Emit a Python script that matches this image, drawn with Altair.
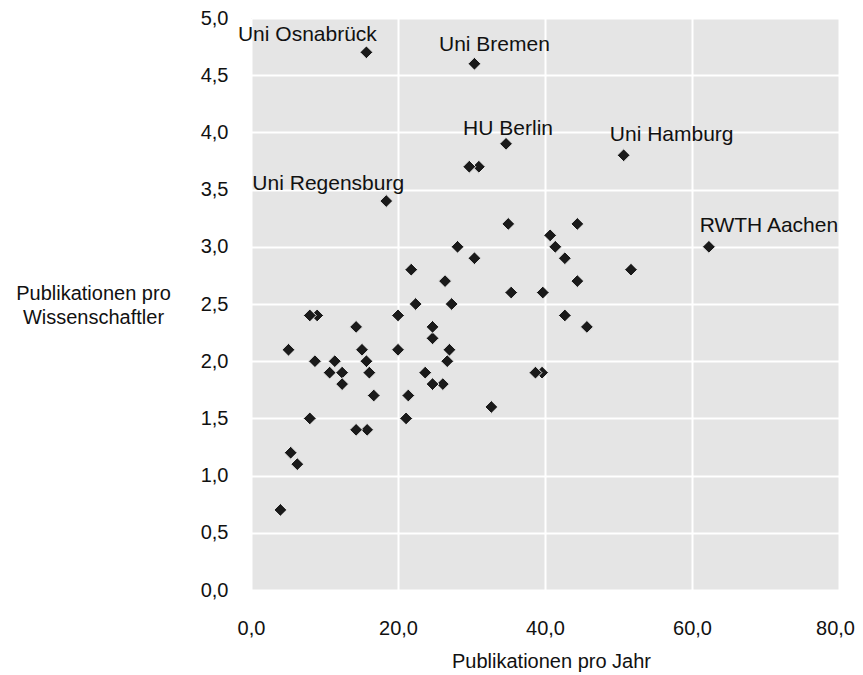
import altair as alt
import pandas as pd

# Unlabelled universities: x = Publikationen pro Jahr, y = Publikationen pro Wissenschaftler
x_vals = [31.0, 29.7, 35.0, 44.4, 40.7, 41.4, 42.7, 51.7, 44.4, 35.4, 39.7, 42.7, 45.7,
          28.1, 30.4, 21.8, 26.4, 22.4, 27.3, 20.0, 24.7, 24.7, 20.0, 27.0, 26.7,
          23.7, 26.1, 24.7, 21.4, 32.7, 21.1, 39.6, 38.7,
          9.0, 8.0, 14.3, 5.1, 15.1, 8.7, 11.4, 15.7, 10.7, 12.4, 16.1, 12.4,
          16.7, 8.0, 15.8, 14.3, 5.4, 6.3, 4.0]
y_vals = [3.7, 3.7, 3.2, 3.2, 3.1, 3.0, 2.9, 2.8, 2.7, 2.6, 2.6, 2.4, 2.3,
          3.0, 2.9, 2.8, 2.7, 2.5, 2.5, 2.4, 2.2, 2.3, 2.1, 2.1, 2.0,
          1.9, 1.8, 1.8, 1.7, 1.6, 1.5, 1.9, 1.9,
          2.4, 2.4, 2.3, 2.1, 2.1, 2.0, 2.0, 2.0, 1.9, 1.9, 1.9, 1.8,
          1.7, 1.5, 1.4, 1.4, 1.2, 1.1, 0.7]

# Labelled universities
label_names = ["Uni Osnabrück", "Uni Bremen", "HU Berlin", "Uni Hamburg",
               "Uni Regensburg", "RWTH Aachen"]
label_x = [15.7, 30.4, 34.7, 50.7, 18.4, 62.3]
label_y = [4.7, 4.6, 3.9, 3.8, 3.4, 3.0]
label_offsets = [(-59, -11), (20, -13), (2, -9), (48, -14), (-58, -11), (60, -15)]

x_ticks = [0, 20, 40, 60, 80]
y_ticks = [0, 0.5, 1.0, 1.5, 2.0, 2.5, 3.0, 3.5, 4.0, 4.5, 5.0]

FONT = "Liberation Sans"
TXT = "#111111"

pts = pd.DataFrame({"x": x_vals + label_x, "y": y_vals + label_y})
labels = pd.DataFrame({"x": label_x, "y": label_y, "name": label_names})

xenc = alt.X("x:Q", scale=alt.Scale(domain=[0, 80], nice=False),
             axis=alt.Axis(values=x_ticks, title="Publikationen pro Jahr",
                           labelExpr="replace(format(datum.value, '.1f'), '.', ',')",
                           grid=True, gridColor="white", gridWidth=2,
                           ticks=False, tickSize=0, domain=False, labelFlush=False,
                           labelOffset={"condition": {"test": "datum.value == 80", "value": -4},
                                        "value": 0},
                           labelFont=FONT, labelFontSize=20, labelColor=TXT,
                           labelPadding=28, labelBaseline="top",
                           titleFont=FONT, titleFontSize=20, titleFontWeight="normal",
                           titleColor=TXT, titleBaseline="alphabetic",
                           titleAlign="center", titleX=300, titleY=77))
yenc = alt.Y("y:Q", scale=alt.Scale(domain=[0, 5], nice=False),
             axis=alt.Axis(values=y_ticks, title=["Publikationen pro", "Wissenschaftler"],
                           labelExpr="replace(format(datum.value, '.1f'), '.', ',')",
                           grid=True, gridColor="white", gridWidth=2,
                           ticks=False, tickSize=0, domain=False, labelFlush=False,
                           labelFont=FONT, labelFontSize=20, labelColor=TXT,
                           labelPadding=23,
                           titleFont=FONT, titleFontSize=20, titleFontWeight="normal",
                           titleColor=TXT, titleAngle=0, titleAlign="center",
                           titleBaseline="alphabetic", titleLineHeight=24,
                           titleX=-158, titleY=281))

points = alt.Chart(pts).mark_point(
    shape="diamond", filled=True, size=165, fill="#1a1a1a", opacity=1,
    stroke="#ededed", strokeWidth=1
).encode(x=xenc, y=yenc)

layers = [points]
for name, (dx, dy) in zip(label_names, label_offsets):
    layers.append(
        alt.Chart(labels).transform_filter(alt.datum.name == name).mark_text(
            font=FONT, fontSize=21, color=TXT, align="center",
            baseline="alphabetic", dx=dx, dy=dy
        ).encode(x="x:Q", y="y:Q", text="name:N")
    )

chart = alt.layer(*layers).properties(
    width=588, height=572,
    autosize=alt.AutoSizeParams(type="none"),
    padding={"left": 243, "top": 10, "right": 16, "bottom": 85},
    background="white"
).configure_view(fill="#e5e5e5", stroke=None)

chart.save("out.html", embed_options={"renderer": "svg", "actions": False})
